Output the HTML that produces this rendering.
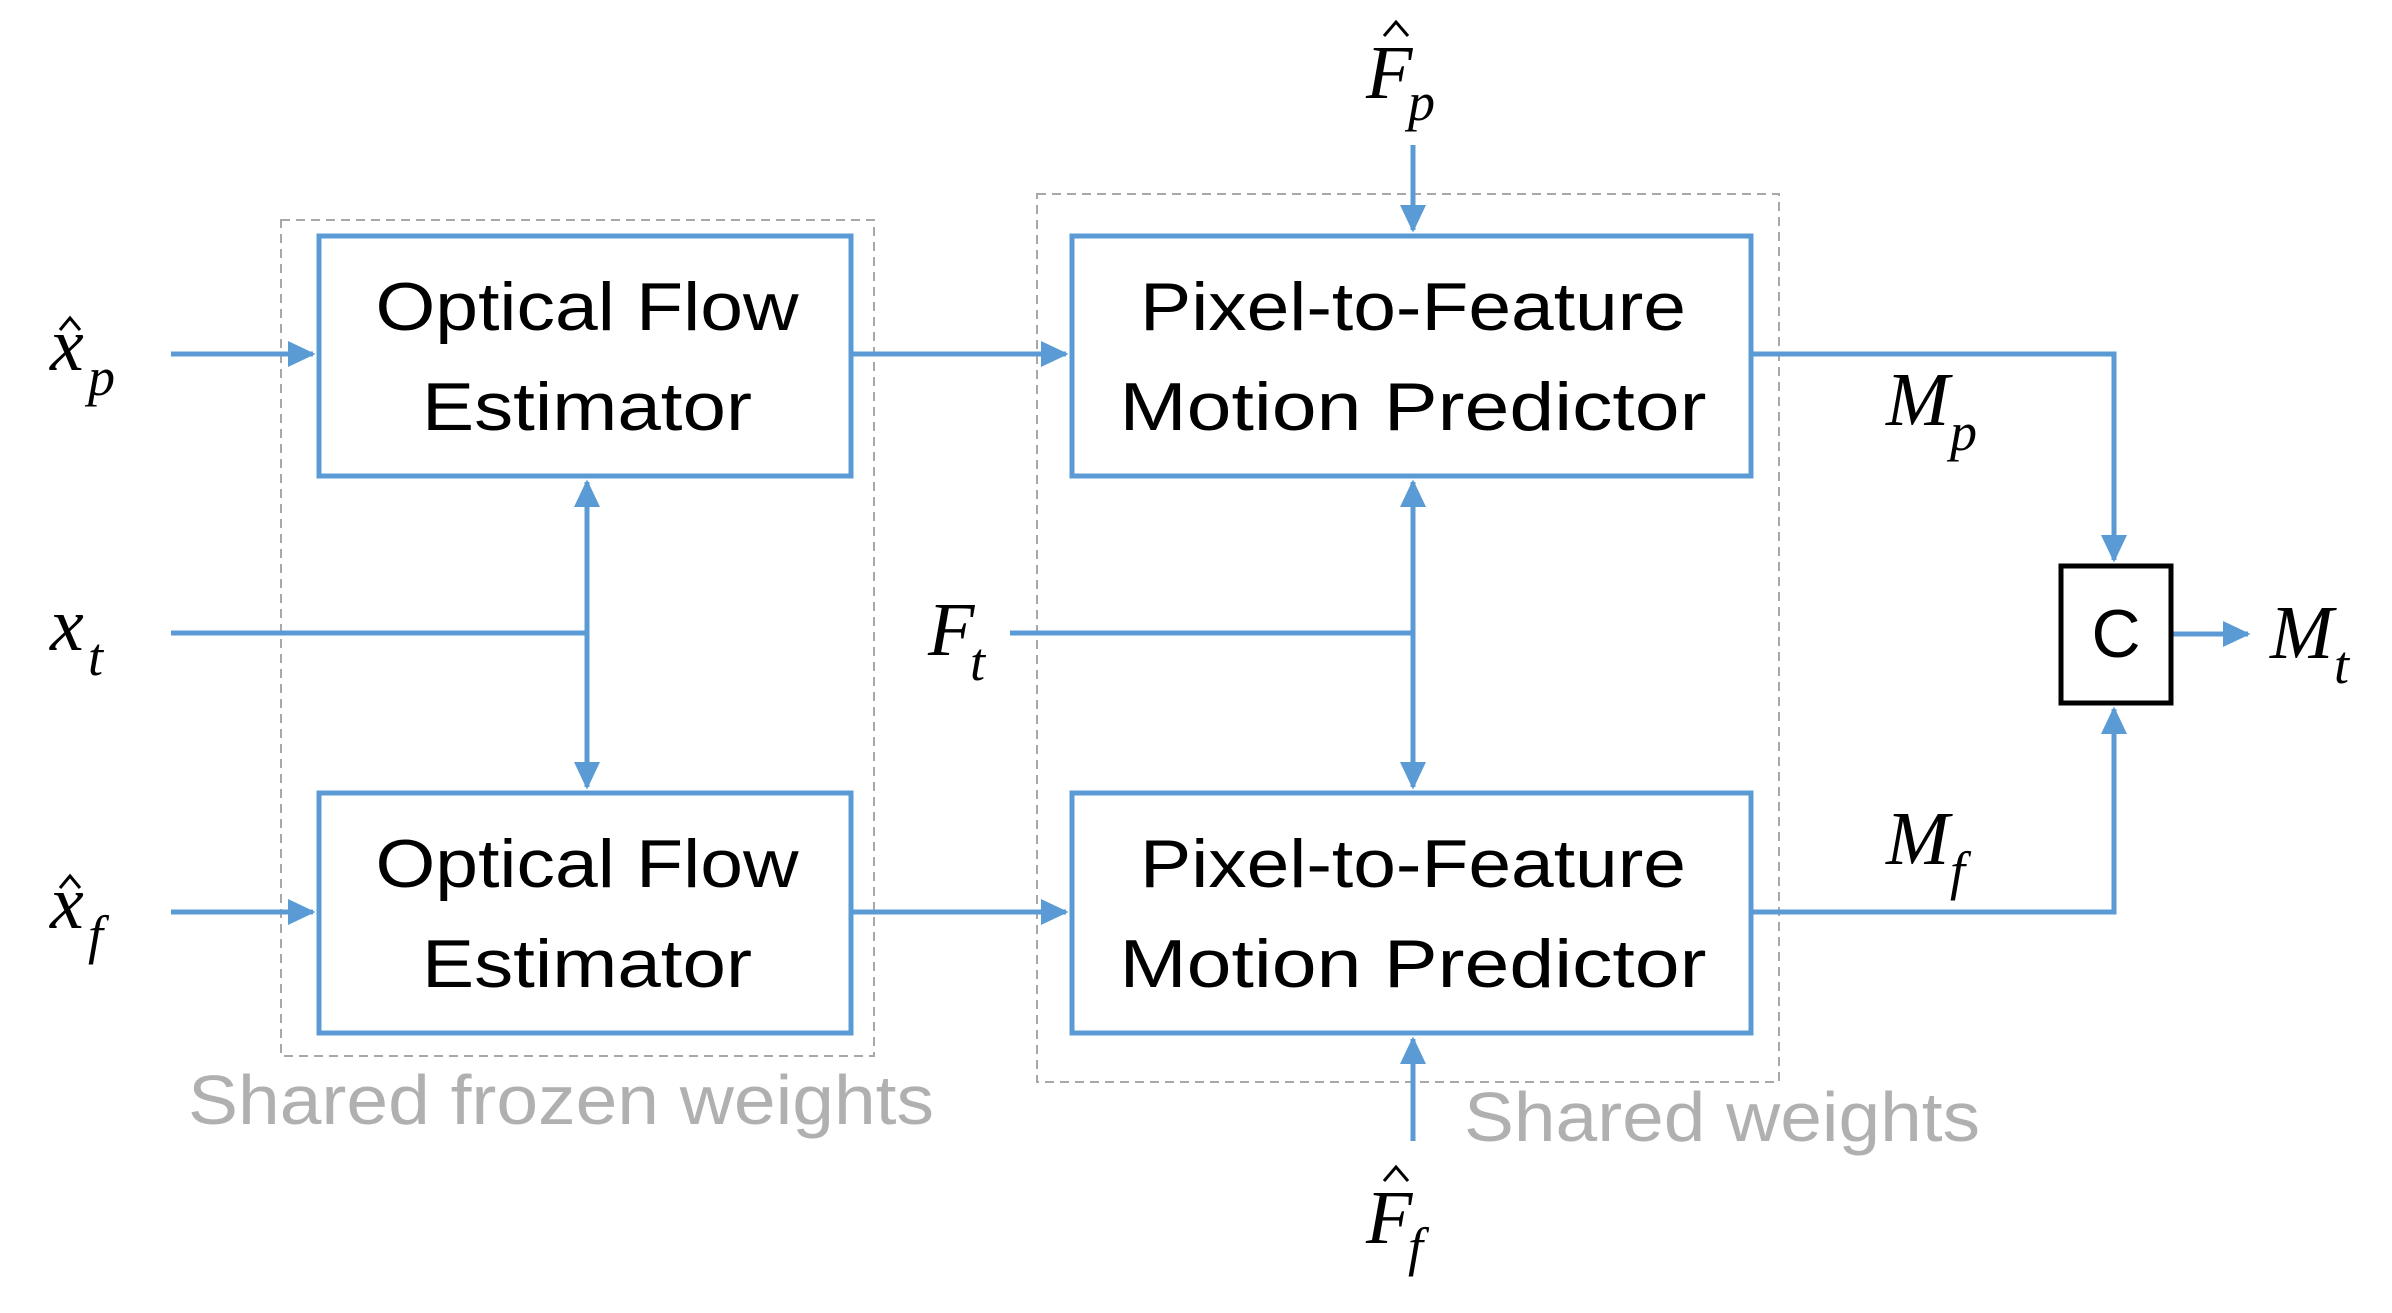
<!DOCTYPE html>
<html><head><meta charset="utf-8"><style>
html,body{margin:0;padding:0;background:#fff;}
svg{display:block;}
.bt{font-family:"Liberation Sans",sans-serif;font-size:68px;fill:#000;text-anchor:middle;}
.m{font-family:"Liberation Serif",serif;font-style:italic;fill:#000;}
.g{font-family:"Liberation Sans",sans-serif;font-size:70px;fill:#b0b0b0;}
</style></head><body>
<svg width="2392" height="1313" viewBox="0 0 2392 1313" xmlns="http://www.w3.org/2000/svg">
<defs>
<marker id="a" markerWidth="6" markerHeight="6" refX="5" refY="3" orient="auto" markerUnits="strokeWidth">
<path d="M0,0.4 L5.5,3 L0,5.6 Z" fill="#5B9BD5"/></marker>
</defs>
<rect x="281" y="220" width="593" height="836" fill="none" stroke="#a8a8a8" stroke-width="2" stroke-dasharray="9,6"/>
<rect x="1037" y="194" width="742" height="888" fill="none" stroke="#a8a8a8" stroke-width="2" stroke-dasharray="9,6"/>
<g stroke="#5B9BD5" stroke-width="5" fill="none">
<rect x="319" y="236" width="532" height="240" fill="#fff"/>
<rect x="319" y="793" width="532" height="240" fill="#fff"/>
<rect x="1072" y="236" width="679" height="240" fill="#fff"/>
<rect x="1072" y="793" width="679" height="240" fill="#fff"/>
<line x1="171" y1="354" x2="313" y2="354" marker-end="url(#a)"/>
<line x1="171" y1="912" x2="313" y2="912" marker-end="url(#a)"/>
<line x1="171" y1="633" x2="587" y2="633"/>
<line x1="587" y1="633" x2="587" y2="482" marker-end="url(#a)"/>
<line x1="587" y1="633" x2="587" y2="787" marker-end="url(#a)"/>
<line x1="851" y1="354" x2="1066" y2="354" marker-end="url(#a)"/>
<line x1="851" y1="912" x2="1066" y2="912" marker-end="url(#a)"/>
<line x1="1010" y1="633" x2="1413" y2="633"/>
<line x1="1413" y1="633" x2="1413" y2="482" marker-end="url(#a)"/>
<line x1="1413" y1="633" x2="1413" y2="787" marker-end="url(#a)"/>
<line x1="1413" y1="145" x2="1413" y2="230" marker-end="url(#a)"/>
<line x1="1413" y1="1141" x2="1413" y2="1039" marker-end="url(#a)"/>
<polyline points="1751,354 2114,354 2114,560" marker-end="url(#a)"/>
<polyline points="1751,912 2114,912 2114,709" marker-end="url(#a)"/>
<line x1="2171" y1="634" x2="2248" y2="634" marker-end="url(#a)"/>
</g>
<rect x="2061" y="566" width="110" height="137" fill="#fff" stroke="#000" stroke-width="5"/>
<text x="2116" y="657" class="bt" font-size="68">C</text>
<text x="587" y="330" class="bt" textLength="423" lengthAdjust="spacingAndGlyphs">Optical Flow</text>
<text x="587" y="430" class="bt" textLength="330" lengthAdjust="spacingAndGlyphs">Estimator</text>
<text x="587" y="887" class="bt" textLength="423" lengthAdjust="spacingAndGlyphs">Optical Flow</text>
<text x="587" y="987" class="bt" textLength="330" lengthAdjust="spacingAndGlyphs">Estimator</text>
<text x="1413" y="330" class="bt" textLength="546" lengthAdjust="spacingAndGlyphs">Pixel-to-Feature</text>
<text x="1413" y="430" class="bt" textLength="587" lengthAdjust="spacingAndGlyphs">Motion Predictor</text>
<text x="1413" y="887" class="bt" textLength="546" lengthAdjust="spacingAndGlyphs">Pixel-to-Feature</text>
<text x="1413" y="987" class="bt" textLength="587" lengthAdjust="spacingAndGlyphs">Motion Predictor</text>
<text x="188" y="1124" class="g" textLength="746" lengthAdjust="spacingAndGlyphs">Shared frozen weights</text>
<text x="1464" y="1141" class="g" textLength="516" lengthAdjust="spacingAndGlyphs">Shared weights</text>
<g class="m">
<text x="50" y="370" font-size="76">x</text><text x="88" y="395" font-size="54">p</text>
<text x="50" y="650" font-size="76">x</text><text x="88" y="675" font-size="54">t</text>
<text x="50" y="928" font-size="76">x</text><text x="88" y="953" font-size="54">f</text>
<text x="1366" y="98" font-size="76">F</text><text x="1408" y="120" font-size="54">p</text>
<text x="1366" y="1243" font-size="76">F</text><text x="1408" y="1265" font-size="54">f</text>
<text x="928" y="655" font-size="76">F</text><text x="970" y="680" font-size="54">t</text>
<text x="1886" y="425" font-size="76">M</text><text x="1950" y="450" font-size="54">p</text>
<text x="1886" y="864" font-size="76">M</text><text x="1950" y="889" font-size="54">f</text>
<text x="2270" y="658" font-size="76">M</text><text x="2334" y="683" font-size="54">t</text>
</g>
<g stroke="#000" stroke-width="3" fill="none">
<polyline points="60,330 70,318 80,330"/>
<polyline points="60,888 70,876 80,888"/>
<polyline points="1384,36 1396,22 1408,36"/>
<polyline points="1384,1181 1396,1167 1408,1181"/>
</g>
</svg>
</body></html>
